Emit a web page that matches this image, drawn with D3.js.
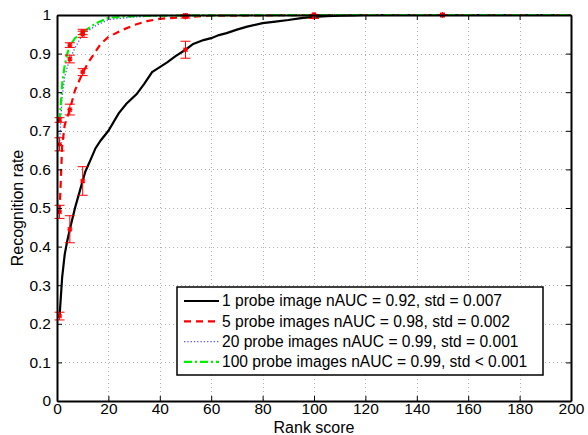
<!DOCTYPE html>
<html>
<head>
<meta charset="utf-8">
<script src="https://cdn.jsdelivr.net/npm/d3@7"></script>
<style>
  body { margin: 0; background: #fff; }
  svg { font-family: "Liberation Sans", Arial, sans-serif; }
</style>
</head>
<body>
<div id="chart"></div>
<script>
// rank scores and recognition rates
var rank1 = [1,2,3,4,5,7,9,11,13,15,17,20,24,27,31,34,37,40,43,46,50,53,57,60,63,66,70,74,80,85,90,95,100,105,110,115,120,150,200];
var probe1 = [0.22,0.32,0.38,0.415,0.445,0.50,0.547,0.594,0.624,0.655,0.675,0.70,0.745,0.77,0.795,0.822,0.852,0.865,0.878,0.893,0.91,0.925,0.935,0.94,0.948,0.953,0.962,0.97,0.979,0.983,0.987,0.992,0.995,0.997,0.998,0.999,1.0,1.0,1.0];

var rank5 = [1,2,3,4,5,7,10,12,15,17,20,25,30,35,40,50,60,80,100,150,200];
var probe5 = [0.49,0.66,0.715,0.735,0.755,0.805,0.85,0.875,0.905,0.925,0.943,0.96,0.974,0.984,0.99,0.995,0.998,0.999,1.0,1.0,1.0];

var rank20 = [1,2,3,4,5,7,10,15,20,30,40,60,100,150,200];
var probe20 = [0.665,0.79,0.84,0.865,0.885,0.915,0.95,0.972,0.988,0.995,0.998,0.999,1.0,1.0,1.0];

var rank100 = [1,2,3,4,5,7,10,15,20,30,50,100,150,200];
var probe100 = [0.725,0.82,0.87,0.9,0.92,0.94,0.955,0.978,0.993,0.997,0.999,1.0,1.0,1.0];

// error bars (mean, std) at a few ranks
var errRanks = [1,5,10,50,100,150];
var err1Mean = [0.22,0.445,0.57,0.91,0.995,1.0];
var err1Std = [0.01,0.035,0.037,0.022,0.004,0.001];
var err5Mean = [0.49,0.755,0.852,0.995,1.0,1.0];
var err5Std = [0.017,0.014,0.009,0.003,0.001,0.001];
var err20Mean = [0.665,0.886,0.95,0.999,1.0,1.0];
var err20Std = [0.017,0.01,0.008,0.001,0.001,0.001];
var err100Mean = [0.728,0.922,0.956,0.999,1.0,1.0];
var err100Std = [0.006,0.006,0.007,0.001,0.001,0.001];

var legendLabels = [
  "1 probe image nAUC = 0.92, std = 0.007",
  "5 probe images nAUC = 0.98, std = 0.002",
  "20 probe images nAUC = 0.99, std = 0.001",
  "100 probe images nAUC = 0.99, std < 0.001"
];

var xTicks = d3.range(0, 201, 20);
var yTicks = d3.range(0, 1.01, 0.1);

var W = 588, H = 435;
var margin = {top: 15, right: 17, bottom: 34, left: 57},
    width = W - margin.left - margin.right,
    height = H - margin.top - margin.bottom;

var svg = d3.select("#chart").append("svg")
    .attr("width", W).attr("height", H)
  .append("g")
    .attr("transform", "translate(" + margin.left + "," + margin.top + ")");

var x = d3.scaleLinear().domain([0, 200]).range([0, width]);
var y = d3.scaleLinear().domain([0, 1]).range([height, 0]);

// grid
var grid = svg.append("g").attr("stroke", "#b0b0b0").attr("stroke-width", 1).attr("stroke-dasharray", "1,3");
grid.selectAll(".gx").data(xTicks.slice(1, -1)).enter().append("line")
  .attr("x1", function(d) { return Math.round(x(d)) + 0.5; })
  .attr("x2", function(d) { return Math.round(x(d)) + 0.5; })
  .attr("y1", 0).attr("y2", height);
grid.selectAll(".gy").data(yTicks.slice(1, -1)).enter().append("line")
  .attr("y1", function(d) { return Math.round(y(d)) + 0.5; })
  .attr("y2", function(d) { return Math.round(y(d)) + 0.5; })
  .attr("x1", 0).attr("x2", width);

// series
var series = [
  {r: rank1, v: probe1, color: "#000", w: 2.2, dash: null, mean: err1Mean, std: err1Std},
  {r: rank5, v: probe5, color: "#f00", w: 2.2, dash: "7,5", mean: err5Mean, std: err5Std},
  {r: rank20, v: probe20, color: "#55f", w: 1.3, dash: "1.3,2", mean: err20Mean, std: err20Std},
  {r: rank100, v: probe100, color: "#0e0", w: 2.2, dash: "8,3,2,3", mean: err100Mean, std: err100Std}
];

var line = d3.line()
  .x(function(d) { return x(d[0]); })
  .y(function(d) { return y(d[1]); });

var plot = svg.append("g");
series.forEach(function(s) {
  var pts = s.r.map(function(r, i) { return [r, s.v[i]]; });
  plot.append("path")
    .attr("d", line(pts))
    .attr("fill", "none")
    .attr("stroke", s.color)
    .attr("stroke-width", s.w)
    .attr("stroke-dasharray", s.dash);
});

// error bars in red
var eb = svg.append("g").attr("stroke", "#f00").attr("stroke-width", 1).attr("fill", "none");
series.forEach(function(s) {
  errRanks.forEach(function(r, i) {
    var cx = x(r), lo = y(s.mean[i] - s.std[i]), hi = y(Math.min(s.mean[i] + s.std[i], 1.005));
    eb.append("line").attr("x1", cx).attr("x2", cx).attr("y1", lo).attr("y2", hi);
    eb.append("line").attr("x1", cx - 5).attr("x2", cx + 5).attr("y1", lo).attr("y2", lo);
    eb.append("line").attr("x1", cx - 5).attr("x2", cx + 5).attr("y1", hi).attr("y2", hi);
    var cy = y(s.mean[i]);
    eb.append("path")
      .attr("d", "M" + (cx - 2.5) + "," + cy + "h5M" + cx + "," + (cy - 2.5) + "v5M" + (cx - 2) + "," + (cy - 2) + "l4,4M" + (cx + 2) + "," + (cy - 2) + "l-4,4")
      .attr("stroke-width", 1.2);
  });
});

// axes, matlab style box with inward ticks
var axB = svg.append("g").attr("transform", "translate(0," + height + ")")
  .call(d3.axisBottom(x).tickValues(xTicks).tickSize(-5).tickPadding(2).tickSizeOuter(0));
var axL = svg.append("g")
  .call(d3.axisLeft(y).tickValues(yTicks).tickFormat(function(d) { return d === 0 ? "0" : d === 1 ? "1" : d3.format(".1f")(d); }).tickSize(-5).tickPadding(6).tickSizeOuter(0));
var axT = svg.append("g")
  .call(d3.axisTop(x).tickValues(xTicks).tickSize(-5).tickFormat("").tickSizeOuter(0));
var axR = svg.append("g").attr("transform", "translate(" + width + ",0)")
  .call(d3.axisRight(y).tickValues(yTicks).tickSize(-5).tickFormat("").tickSizeOuter(0));
[axB, axL, axT, axR].forEach(function(a) {
  a.select(".domain").attr("stroke", "#000").attr("stroke-width", 2);
  a.selectAll(".tick line").attr("stroke", "#000").attr("stroke-width", 1);
  a.selectAll("text").attr("fill", "#000").style("font-size", "15.5px").style("font-family", "Liberation Sans, Arial, sans-serif");
});

// axis labels
svg.append("text")
  .attr("x", width / 2).attr("y", height + 32)
  .attr("text-anchor", "middle")
  .style("font-size", "16px")
  .text("Rank score");
svg.append("text")
  .attr("transform", "translate(" + (-34) + "," + (height / 2) + ") rotate(-90)")
  .attr("text-anchor", "middle")
  .style("font-size", "16px")
  .text("Recognition rate");

// ----- LEGEND -----
var lg = svg.append("g").attr("transform", "translate(" + (177 - margin.left) + "," + (287 - margin.top) + ")");
lg.append("rect")
  .attr("width", 366).attr("height", 88)
  .attr("fill", "#fff").attr("stroke", "#000").attr("stroke-width", 1.5);
var item = lg.selectAll(".legend").data(legendLabels).enter().append("g")
  .attr("class", "legend")
  .attr("transform", function(d, i) { return "translate(0," + (14 + i * 20.3) + ")"; });
item.append("line")
  .attr("x1", 7).attr("x2", 42)
  .attr("stroke", function(d, i) { return series[i].color; })
  .attr("stroke-width", function(d, i) { return series[i].w; })
  .attr("stroke-dasharray", function(d, i) { return series[i].dash; });
item.append("text")
  .attr("x", 45).attr("dy", "0.35em")
  .style("font-size", "15.6px")
  .text(function(d) { return d; });
</script>
</body>
</html>
